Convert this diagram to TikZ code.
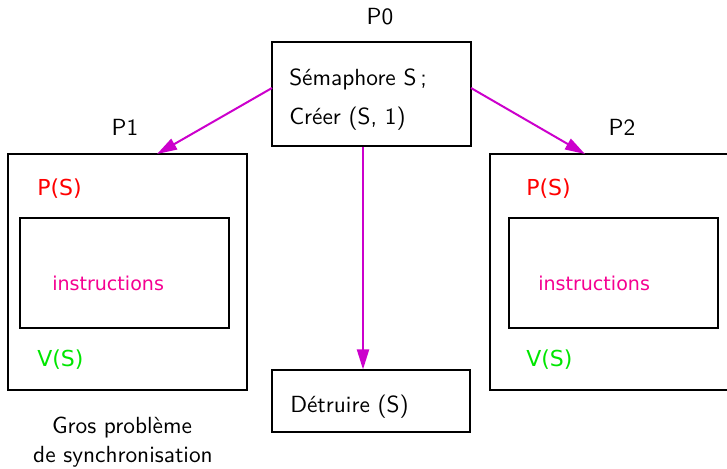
\documentclass[tikz,border=0pt]{standalone}
\usepackage{fontspec}
\newfontfamily\dejavu{DejaVu Sans}
\newfontfamily\lmten{lmsans10-regular.otf}
\usetikzlibrary{arrows.meta}
\definecolor{arrowmag}{HTML}{CC00CC}
\definecolor{instrpink}{HTML}{F50091}
\definecolor{vgreen}{HTML}{00E600}
\begin{document}
\begin{tikzpicture}[x=0.75pt,y=-0.75pt,
  box/.style={draw=black, line width=0.8pt, inner sep=0pt},
  lbl/.style={inner sep=0pt, anchor=base west, font=\fontsize{17.5}{21}\lmten},
  clbl/.style={inner sep=0pt, anchor=base, font=\fontsize{17.5}{21}\lmten},
  pstxt/.style={inner sep=0pt, anchor=base west, font=\fontsize{16.5}{20}\dejavu},
  instr/.style={inner sep=0pt, anchor=base west, text=instrpink, font=\fontsize{14.3}{18}\dejavu},
  conn/.style={draw=arrowmag, line width=1.5pt, -{Triangle[length=15pt,width=9pt]}}]
\useasboundingbox (0,0) rectangle (727,468);
% P0
\node[box, minimum width=149.25pt, minimum height=78pt] (p0) at (371.5,94) {};
\node[clbl] (p0l) at (380,24) {P0};
\node[lbl] (sem) at (289,85) {Sémaphore S\,;};
\node[lbl] (cre) at (289,124) {Créer (S, 1)};
% P1
\node[box, minimum width=179.25pt, minimum height=177pt] (p1) at (127.5,272) {};
\node[box, minimum width=156.75pt, minimum height=82.5pt] (p1i) at (124.5,273) {};
\node[clbl] (p1l) at (125,135) {P1};
\node[pstxt, text=red] (p1p) at (37,195) {P(S)};
\node[instr] (p1n) at (52,290) {instructions};
\node[pstxt, text=vgreen] (p1v) at (37,366) {V(S)};
% P2
\node[box, minimum width=180pt, minimum height=177pt] (p2) at (610,272) {};
\node[box, minimum width=156.75pt, minimum height=82.5pt] (p2i) at (613.5,273) {};
\node[clbl] (p2l) at (622,135) {P2};
\node[pstxt, text=red] (p2p) at (526,195) {P(S)};
\node[instr] (p2n) at (538,290) {instructions};
\node[pstxt, text=vgreen] (p2v) at (526,366) {V(S)};
% Detruire
\node[box, minimum width=148.5pt, minimum height=46.5pt] (det) at (371,401) {};
\node[lbl] (dett) at (290,412) {Détruire (S)};
% note
\node[clbl] (g1) at (122,433) {Gros problème};
\node[clbl] (g2) at (123,462) {de synchronisation};
% connectors
\coordinate (a0) at (272,88);
\coordinate (a1) at (157,154);
\coordinate (b0) at (471,88);
\coordinate (b1) at (585,154);
\draw[conn] (a0) -- (a1);
\draw[conn] (b0) -- (b1);
\draw[conn] (p0.south -| 363,0) -- (det.north -| 363,0);
\end{tikzpicture}
\end{document}
